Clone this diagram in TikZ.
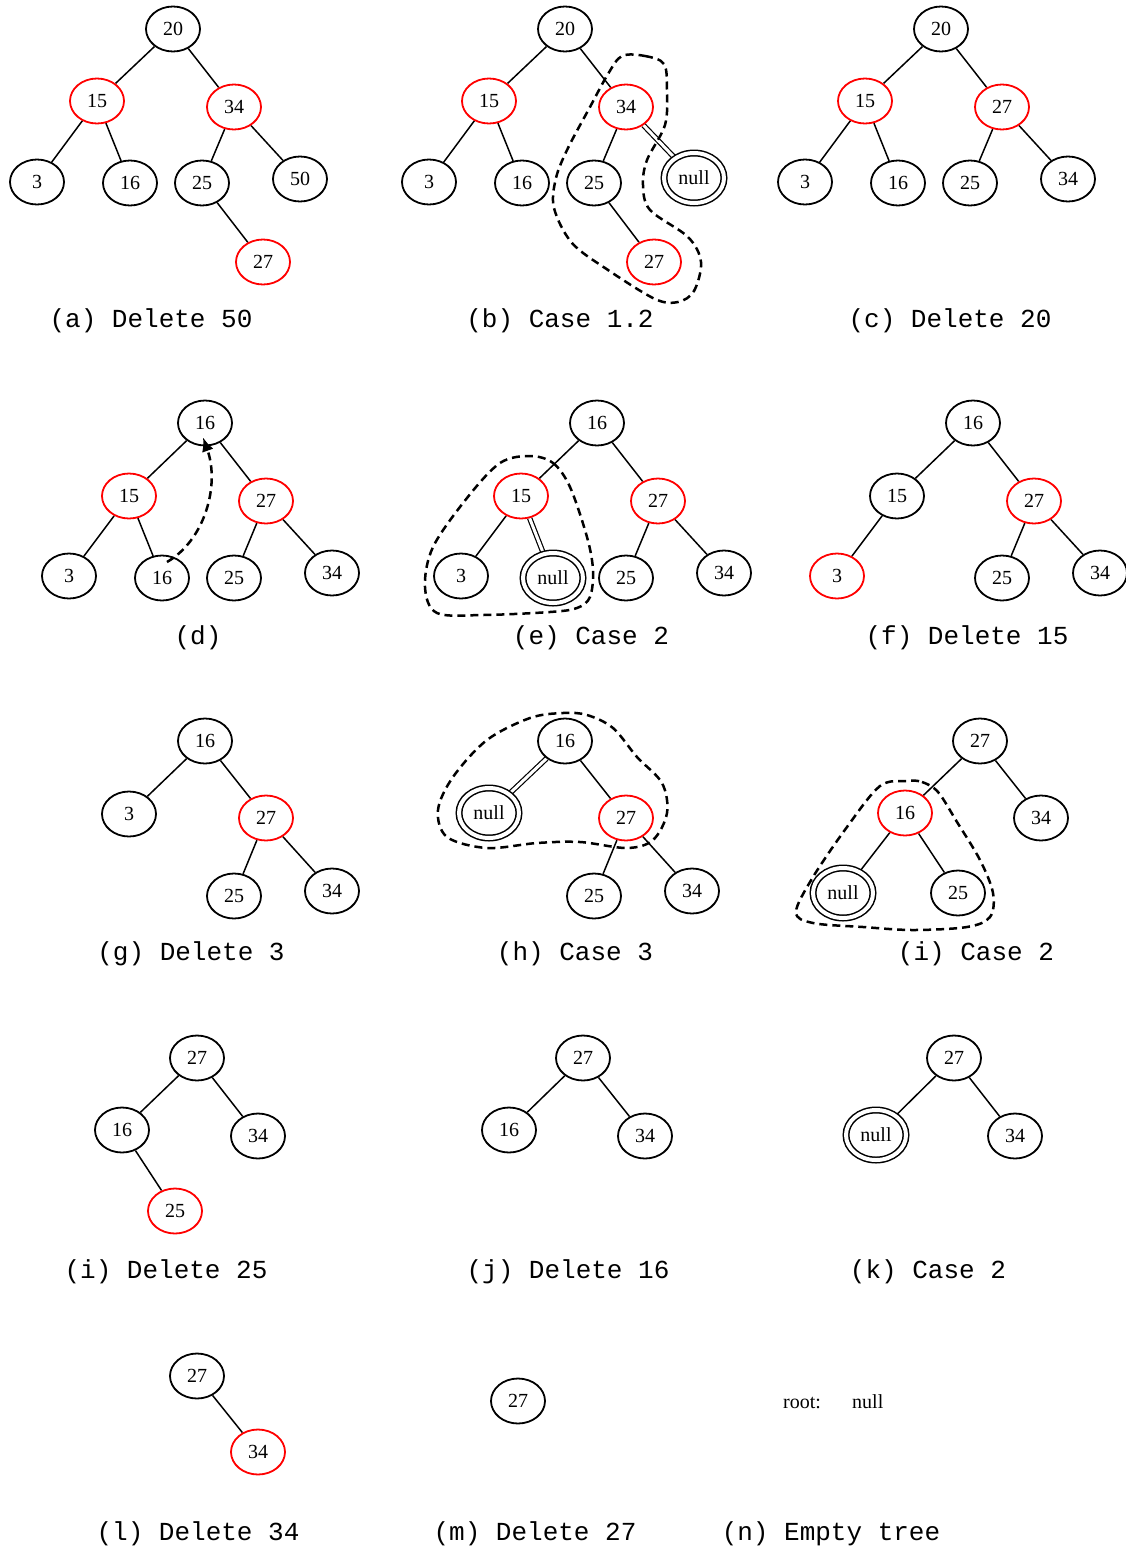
\documentclass[tikz,border=0pt]{standalone}
\usepackage{fontspec}
\setmainfont{Liberation Serif}
\setmonofont{Liberation Mono}
\usetikzlibrary{shapes.geometric,arrows.meta,calc,backgrounds}

\tikzset{
  key/.style={ellipse, draw, line width=1.8pt, minimum width=54pt, minimum height=45pt,
              inner sep=0pt, font=\fontsize{20}{24}\selectfont},
  redkey/.style={key, draw=red},
  nil/.style={ellipse, draw, double, double distance=4pt, line width=1.5pt,
              minimum width=60pt, minimum height=50pt, inner sep=0pt,
              font=\fontsize{20}{24}\selectfont},
  link/.style={line width=1.5pt},
  dlink/.style={double, double distance=3pt, line width=1.2pt},
  hull/.style={line width=2.5pt, dash pattern=on 8pt off 5pt},
  caption/.style={anchor=base, inner sep=0pt, font=\fontsize{26}{30}\selectfont\ttfamily},
  plain/.style={anchor=base west, inner sep=0pt, font=\fontsize{20}{24}\selectfont},
}

\begin{document}
\begin{tikzpicture}[x=1pt,y=-1pt]
\useasboundingbox (0,0) rectangle (1126,1548);

% ---------- (a) Delete 50 ----------
\node[key]    (a20) at (173,29) {20};
\node[redkey] (a15) at (97,101) {15};
\node[redkey] (a34) at (234,107) {34};
\node[key]    (a3)  at (37,182) {3};
\node[key]    (a16) at (130,183) {16};
\node[key]    (a25) at (202,183) {25};
\node[key]    (a50) at (300,179) {50};
\node[redkey] (a27) at (263,262) {27};
\node[caption] (capa) at (151,327) {(a) Delete 50};

% ---------- (b) Case 1.2 ----------
\node[key]    (b20) at (565,29) {20};
\node[redkey] (b15) at (489,101) {15};
\node[redkey] (b34) at (626,107) {34};
\node[key]    (b3)  at (429,182) {3};
\node[key]    (b16) at (522,183) {16};
\node[key]    (b25) at (594,183) {25};
\node[nil]    (bnull) at (694,178) {null};
\node[redkey] (b27) at (654,262) {27};
\node[caption] (capb) at (560,327) {(b) Case 1.2};
\draw[hull] plot[smooth cycle, tension=0.55] coordinates {
  (622,56) (645,56) (664,64) (667,90) (665,125) (647,160) (643,185) (650,210)
  (688,237) (701,262) (694,291) (678,302) (655,299) (608,270) (572,243)
  (554,208) (556,178) (568,148) (590,107) (608,74)};

% ---------- (c) Delete 20 ----------
\node[key]    (c20) at (941,29) {20};
\node[redkey] (c15) at (865,101) {15};
\node[redkey] (c27) at (1002,107) {27};
\node[key]    (c3)  at (805,182) {3};
\node[key]    (c16) at (898,183) {16};
\node[key]    (c25) at (970,183) {25};
\node[key]    (c34) at (1068,179) {34};
\node[caption] (capc) at (950,327) {(c) Delete 20};

% ---------- (d) ----------
\node[key]    (d16)  at (205,423) {16};
\node[redkey] (d15)  at (129,496) {15};
\node[redkey] (d27)  at (266,501) {27};
\node[key]    (d3)   at (69,576) {3};
\node[key]    (d16b) at (162,578) {16};
\node[key]    (d25)  at (234,578) {25};
\node[key]    (d34)  at (332,573) {34};
\node[caption] (capd) at (198,644) {(d)};
\coordinate (dfrom) at ($(d16b.center)+(5,-16)$);
\coordinate (dto)   at ($(d16.south)+(-2,-9)$);
\draw[hull, -{Latex[length=14pt,width=12pt]}]
  (dfrom) .. controls (205,540) and (220,485) .. (dto);

% ---------- (e) Case 2 ----------
\node[key]    (e16) at (597,423) {16};
\node[redkey] (e15) at (521,496) {15};
\node[redkey] (e27) at (658,501) {27};
\node[key]    (e3)  at (461,576) {3};
\node[nil]    (enull) at (553,578) {null};
\node[key]    (e25) at (626,578) {25};
\node[key]    (e34) at (724,573) {34};
\node[caption] (cape) at (591,644) {(e) Case 2};
\draw[hull] plot[smooth cycle, tension=0.55] coordinates {
  (530,456) (553,463) (570,487) (587,537) (593,570) (590,597) (577,608)
  (550,612) (483,615) (437,613) (425,587) (433,547) (467,498) (500,463)};

% ---------- (f) Delete 15 ----------
\node[key]    (f16) at (973,423) {16};
\node[key]    (f15) at (897,496) {15};
\node[redkey] (f27) at (1034,501) {27};
\node[redkey] (f3)  at (837,576) {3};
\node[key]    (f25) at (1002,578) {25};
\node[key]    (f34) at (1100,573) {34};
\node[caption] (capf) at (967,644) {(f) Delete 15};

% ---------- (g) Delete 3 ----------
\node[key]    (g16) at (205,741) {16};
\node[key]    (g3)  at (129,814) {3};
\node[redkey] (g27) at (266,818) {27};
\node[key]    (g25) at (234,896) {25};
\node[key]    (g34) at (332,891) {34};
\node[caption] (capg) at (191,960) {(g) Delete 3};

% ---------- (h) Case 3 ----------
\node[key]    (h16) at (565,741) {16};
\node[nil]    (hnull) at (489,813) {null};
\node[redkey] (h27) at (626,818) {27};
\node[key]    (h25) at (594,896) {25};
\node[key]    (h34) at (692,891) {34};
\node[caption] (caph) at (575,960) {(h) Case 3};
\draw[hull] plot[smooth cycle, tension=0.55] coordinates {
  (563,713) (587,715) (613,728) (637,757) (662,783) (667,813) (653,840)
  (627,848) (580,842) (537,843) (487,848) (447,837) (438,810) (453,777)
  (487,740) (530,718)};

% ---------- (i) Case 2 ----------
\node[key]    (i27) at (980,741) {27};
\node[redkey] (i16) at (905,813) {16};
\node[key]    (i34) at (1041,818) {34};
\node[nil]    (inull) at (843,893) {null};
\node[key]    (i25) at (958,893) {25};
\node[caption] (capi) at (976,960) {(i) Case 2};
\draw[hull] plot[smooth cycle, tension=0.55] coordinates {
  (907,781) (922,782) (938,792) (957,822) (980,860) (993,893) (990,917)
  (967,927) (913,930) (863,927) (813,923) (796,912) (813,877) (847,827)
  (880,786)};

% ---------- (i) Delete 25 ----------
\node[key]    (p27) at (197,1058) {27};
\node[key]    (p16) at (122,1130) {16};
\node[key]    (p34) at (258,1136) {34};
\node[redkey] (p25) at (175,1211) {25};
\node[caption] (capp) at (166,1278) {(i) Delete 25};

% ---------- (j) Delete 16 ----------
\node[key]    (j27) at (583,1058) {27};
\node[key]    (j16) at (509,1130) {16};
\node[key]    (j34) at (645,1136) {34};
\node[caption] (capj) at (568,1278) {(j) Delete 16};

% ---------- (k) Case 2 ----------
\node[key]    (k27) at (954,1058) {27};
\node[nil]    (knull) at (876,1135) {null};
\node[key]    (k34) at (1015,1136) {34};
\node[caption] (capk) at (928,1278) {(k) Case 2};

% ---------- (l) Delete 34 ----------
\node[key]    (l27) at (197,1376) {27};
\node[redkey] (l34) at (258,1452) {34};
\node[caption] (capl) at (198,1540) {(l) Delete 34};

% ---------- (m) Delete 27 ----------
\node[key]    (m27) at (518,1401) {27};
\node[caption] (capm) at (535,1540) {(m) Delete 27};

% ---------- (n) Empty tree ----------
\node[plain] (root) at (783,1408) {root:};
\node[plain] (rnull) at (852,1408) {null};
\node[caption] (capn) at (831,1540) {(n) Empty tree};

% ---------- tree edges ----------
\begin{pgfonlayer}{background}
\draw[link] (a20) -- (a15); \draw[link] (a20) -- (a34);
\draw[link] (a15) -- (a3);  \draw[link] (a15) -- (a16);
\draw[link] (a34) -- (a25); \draw[link] (a34) -- (a50);
\draw[link] (a25) -- (a27);

\draw[link] (b20) -- (b15); \draw[link] (b20) -- (b34);
\draw[link] (b15) -- (b3);  \draw[link] (b15) -- (b16);
\draw[link] (b34) -- (b25); \draw[dlink] (b34) -- (bnull);
\draw[link] (b25) -- (b27);

\draw[link] (c20) -- (c15); \draw[link] (c20) -- (c27);
\draw[link] (c15) -- (c3);  \draw[link] (c15) -- (c16);
\draw[link] (c27) -- (c25); \draw[link] (c27) -- (c34);

\draw[link] (d16) -- (d15); \draw[link] (d16) -- (d27);
\draw[link] (d15) -- (d3);  \draw[link] (d15) -- (d16b);
\draw[link] (d27) -- (d25); \draw[link] (d27) -- (d34);

\draw[link] (e16) -- (e15); \draw[link] (e16) -- (e27);
\draw[link] (e15) -- (e3);  \draw[dlink] (e15) -- (enull);
\draw[link] (e27) -- (e25); \draw[link] (e27) -- (e34);

\draw[link] (f16) -- (f15); \draw[link] (f16) -- (f27);
\draw[link] (f15) -- (f3);
\draw[link] (f27) -- (f25); \draw[link] (f27) -- (f34);

\draw[link] (g16) -- (g3);  \draw[link] (g16) -- (g27);
\draw[link] (g27) -- (g25); \draw[link] (g27) -- (g34);

\draw[dlink] (h16) -- (hnull); \draw[link] (h16) -- (h27);
\draw[link] (h27) -- (h25); \draw[link] (h27) -- (h34);

\draw[link] (i27) -- (i16); \draw[link] (i27) -- (i34);
\draw[link] (i16) -- (inull); \draw[link] (i16) -- (i25);

\draw[link] (p27) -- (p16); \draw[link] (p27) -- (p34);
\draw[link] (p16) -- (p25);

\draw[link] (j27) -- (j16); \draw[link] (j27) -- (j34);

\draw[link] (k27) -- (knull); \draw[link] (k27) -- (k34);

\draw[link] (l27) -- (l34);
\end{pgfonlayer}
\end{tikzpicture}
\end{document}
